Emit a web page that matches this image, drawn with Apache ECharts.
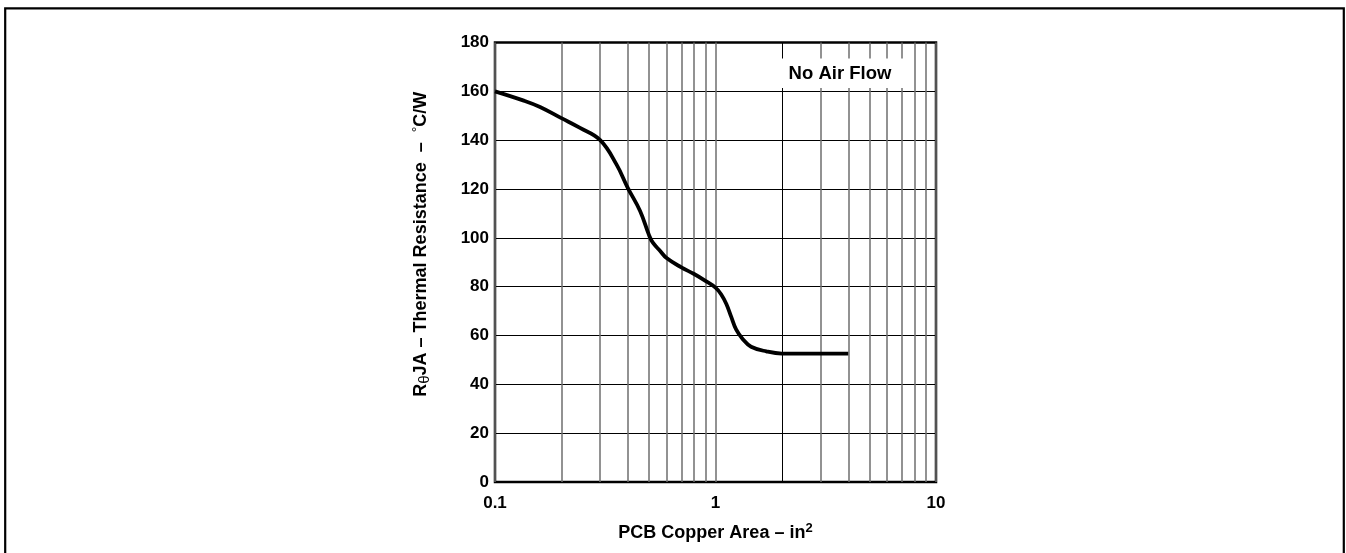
<!DOCTYPE html>
<html>
<head>
<meta charset="utf-8">
<script src="https://cdn.jsdelivr.net/npm/echarts@6/dist/echarts.min.js"></script>
<style>
  html, body { margin: 0; padding: 0; background: #fff; }
  #chart { width: 1346px; height: 553px; }
</style>
</head>
<body>
<div id="chart"></div>
<script>
// PCB copper area (in^2) vs thermal resistance (°C/W)
const areaIn2 = [0.1, 0.134, 0.16, 0.2, 0.243, 0.3, 0.356, 0.4, 0.455, 0.5, 0.52, 0.56, 0.6, 0.7, 0.8, 0.9, 1.0, 1.06, 1.12, 1.18, 1.24, 1.33, 1.45, 1.7, 2, 4]
const thetaJA = [160, 156.3, 153.6, 149, 145, 140, 130, 120.5, 111, 101, 98, 94.7, 91.7, 87.9, 85.2, 82.4, 79.6, 76.9, 72.9, 67.5, 62.5, 58.5, 55.4, 53.5, 52.6, 52.6]
// log grid lines inside each decade
const minorX = [0.2, 0.3, 0.4, 0.5, 0.6, 0.7, 0.8, 0.9, 2, 3, 4, 5, 6, 7, 8, 9]
const yTicks = [0, 20, 40, 60, 80, 100, 120, 140, 160, 180]

const font = "'Liberation Sans', Arial, Helvetica, sans-serif"
let myChart = echarts.init(document.getElementById('chart'))

let option = {
  animation: false,
  backgroundColor: '#fff',
  textStyle: { fontFamily: font },
  grid: {
    left: 495, top: 42.5, right: 410, bottom: 71,
    show: true,
    borderColor: '#000',
    borderWidth: 2.5,
    backgroundColor: 'transparent'
  },
  xAxis: {
    type: 'log',
    logBase: 10,
    min: 0.1,
    max: 10,
    axisLine: { show: false },
    axisTick: { show: false },
    axisLabel: {
      color: '#000', fontWeight: 'bold', fontSize: 17, fontFamily: font, margin: 13,
      formatter: function (v) { return String(v) }
    },
    splitLine: { show: true, lineStyle: { color: '#6e6e6e', width: 1.5 } },
    name: 'PCB Copper Area – in{sup|2}',
    nameLocation: 'middle',
    nameGap: 40,
    nameTextStyle: {
      color: '#000', fontWeight: 'bold', fontSize: 18, fontFamily: font, lineHeight: 22,
      rich: {
        sup: { fontSize: 13, fontWeight: 'bold', color: '#000', lineHeight: 13, verticalAlign: 'top', padding: [0, 0, 9, 0] }
      }
    }
  },
  yAxis: {
    type: 'value',
    min: 0,
    max: 180,
    interval: 20,
    axisLine: { show: false },
    axisTick: { show: false },
    axisLabel: {
      color: '#000', fontWeight: 'bold', fontSize: 17, fontFamily: font, margin: 6,
      formatter: function (v) { return yTicks.indexOf(v) >= 0 ? String(v) : '' }
    },
    splitLine: { show: true, lineStyle: { color: '#000', width: 1 } },
    name: 'R{sub|θ}JA – Thermal Resistance  –  {deg|°}C/W',
    nameLocation: 'middle',
    nameRotate: 90,
    nameGap: 63,
    nameTextStyle: {
      color: '#000', fontWeight: 'bold', fontSize: 18, fontFamily: font,
      padding: [0, 0, 0, 36],
      rich: {
        sub: { fontSize: 15, fontWeight: 'normal', color: '#000', verticalAlign: 'bottom', padding: [6, 0, 0, 0] },
        deg: { fontSize: 14, fontWeight: 'normal', color: '#000', verticalAlign: 'top', padding: [0, 0, 6, 0] }
      }
    }
  },
  graphic: [
    {
      type: 'rect', z: 200, silent: true,
      shape: { x: 5.2, y: 8.3, width: 1338.6, height: 620 },
      style: { fill: 'none', stroke: '#000', lineWidth: 2.2 }
    },
    {
      type: 'rect', z: 100, silent: true,
      shape: { x: 772, y: 58.5, width: 139, height: 29.5 },
      style: { fill: '#fff' }
    },
    {
      type: 'text', z: 101, silent: true,
      x: 840, y: 73.5,
      style: {
        text: 'No Air Flow', fill: '#000', font: 'bold 18.5px ' + font,
        align: 'center', verticalAlign: 'middle'
      }
    }
  ],
  series: [
    {
      name: 'grid',
      type: 'line',
      data: [],
      z: 1,
      silent: true,
      markLine: {
        silent: true,
        symbol: 'none',
        label: { show: false },
        lineStyle: { color: '#6e6e6e', width: 1.5, type: 'solid' },
        data: minorX.map(function (v) {
          let item = { xAxis: v }
          if (v === 2) item.lineStyle = { color: '#000', width: 1, type: 'solid' }
          return item
        })
      }
    },
    {
      name: 'RθJA',
      type: 'line',
      z: 10,
      smooth: 0.4,
      showSymbol: false,
      lineStyle: { color: '#000', width: 3.8 },
      data: areaIn2.map(function (x, i) { return [x, thetaJA[i]] })
    }
  ]
}
myChart.setOption(option)
</script>
</body>
</html>
